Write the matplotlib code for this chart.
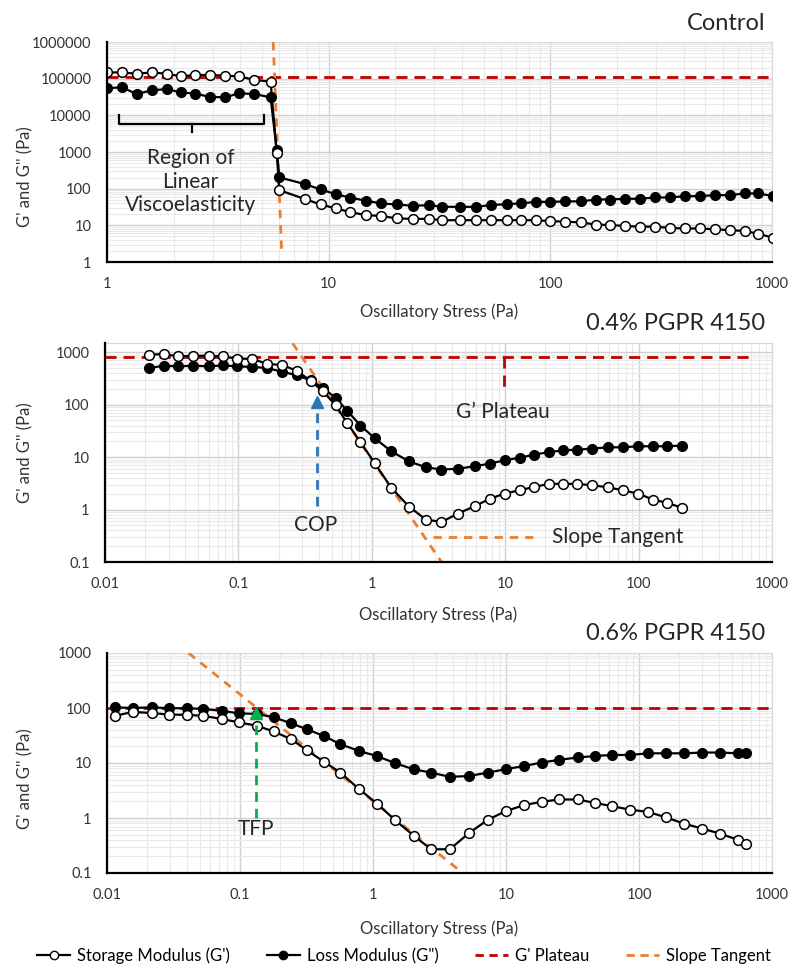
import numpy as np
import matplotlib
matplotlib.use('Agg')
import matplotlib.pyplot as plt
from matplotlib.ticker import LogLocator, FuncFormatter, NullFormatter
from matplotlib.lines import Line2D

plt.rcParams['font.family'] = ['Lato', 'DejaVu Sans']

# ---------------- data ----------------
# Control
ctrl_stress = [1.0, 1.17, 1.36, 1.59, 1.86, 2.16, 2.49, 2.91, 3.41, 3.95, 4.62, 5.47, 5.83, 5.99,
               7.82, 9.2, 10.75, 12.5, 14.7, 17.3, 20.3, 24, 28.4, 32.5, 39, 46, 54, 63.5, 73.5,
               86, 100, 117, 137, 161, 186, 218, 254, 296, 346, 405, 472, 552, 645, 753, 865, 1010]
ctrl_storage = [148000, 148000, 136000, 148000, 136000, 115000, 126000, 126000, 121000, 115000,
                93000, 83000, 950, 91, 52, 37, 29, 23, 19, 18, 15.4, 15, 15, 13.8, 13.8, 13.8,
                13.8, 13.8, 13.8, 13.8, 13, 12.6, 12, 10.5, 10.2, 9.6, 9.2, 9.2, 8.5, 8.2, 8.2,
                7.8, 7.4, 7.0, 5.9, 4.6]
ctrl_loss = [55000, 58000, 38000, 48000, 52000, 42000, 39000, 32000, 31000, 40000, 38000, 31000,
             1130, 203, 133, 95, 71, 57, 47, 39.5, 37, 34, 35.5, 32, 32, 32, 35.5, 38, 39.5, 43.6,
             43.6, 45, 45, 50.6, 50.6, 53, 53, 57.5, 57.5, 62.5, 62.5, 66.5, 66.5, 74, 74, 63]
ctrl_plateau = 112000
ctrl_tangent_x = [5.62, 6.14]
ctrl_tangent_y = [1.0e6, 1.7]

# 0.4% PGPR 4150
p04_stress = [0.0215, 0.0277, 0.0354, 0.0459, 0.0601, 0.077, 0.098, 0.127, 0.163, 0.213, 0.273,
              0.348, 0.431, 0.537, 0.653, 0.822, 1.05, 1.40, 1.90, 2.54, 3.33, 4.43, 5.9, 7.66,
              9.9, 12.8, 16.5, 21.3, 27.1, 34.7, 45, 59, 76, 99, 128, 164, 212]
p04_storage = [896, 923, 832, 858, 858, 832, 752, 752, 600, 570, 445, 285, 179, 97, 45, 19.4, 7.7,
               2.6, 1.14, 0.645, 0.58, 0.84, 1.16, 1.6, 2.02, 2.33, 2.7, 3.09, 3.09, 3.09, 2.9,
               2.66, 2.33, 2.02, 1.55, 1.34, 1.08]
p04_loss = [500, 553, 537, 553, 537, 560, 537, 524, 500, 425, 365, 290, 208, 134, 77, 40, 23, 12.9,
            8.3, 6.4, 5.8, 6.0, 6.7, 7.5, 8.7, 9.7, 11.2, 12.4, 13.5, 13.9, 14.5, 15.4, 15.4,
            16.1, 16.1, 16.1, 16.6]
p04_plateau = 800
p04_plateau_end = 708
p04_tangent_x = [0.255, 3.33]
p04_tangent_y = [1480, 0.1]
p04_cop = 0.386

# 0.6% PGPR 4150
p06_stress = [0.0115, 0.0156, 0.0217, 0.0293, 0.0398, 0.0531, 0.0731, 0.0975, 0.134, 0.179, 0.243,
              0.319, 0.426, 0.569, 0.78, 1.07, 1.47, 2.02, 2.73, 3.78, 5.26, 7.31, 9.93, 13.6,
              18.5, 25, 34.8, 46.4, 63, 85, 117, 159, 218, 300, 407, 557, 637]
p06_storage = [72, 85, 81, 76, 75, 72, 63, 55, 47.5, 37.5, 27, 17, 10.6, 6.7, 3.4, 1.83, 0.91,
               0.48, 0.27, 0.27, 0.53, 0.93, 1.33, 1.71, 1.97, 2.17, 2.17, 1.88, 1.64, 1.42,
               1.29, 1.03, 0.79, 0.64, 0.52, 0.40, 0.34]
p06_loss = [103, 100, 103, 99, 99, 96, 89, 80, 78, 68, 52.5, 41, 31, 22, 16.6, 13.4, 9.9, 7.7,
            6.7, 5.6, 5.8, 6.7, 7.7, 8.8, 10.2, 11.4, 12.6, 13.4, 14, 14, 15, 15, 15, 15.5, 15.5,
            15, 15]
p06_plateau = 100
p06_plateau_end = 950
p06_tangent_x = [0.041, 4.58]
p06_tangent_y = [1000, 0.106]
p06_tfp = 0.133

titles = ["Control", "0.4% PGPR 4150", "0.6% PGPR 4150"]
xlabel = "Oscillatory Stress (Pa)"
ylabel = "G' and G'' (Pa)"
legend_labels = ["Storage Modulus (G')", 'Loss Modulus (G")', "G' Plateau", "Slope Tangent"]

RED = '#C00000'
ORANGE = '#ED7D31'
BLUE = '#2E75B6'
GREEN = '#00B050'
TXT = '#262626'

# ---------------- figure ----------------
W, H = 794, 976
fig = plt.figure(figsize=(W / 100, H / 100), dpi=100)


def ax_rect(l, t, r, b):
    return [l / W, 1 - b / H, (r - l) / W, (b - t) / H]


def fmt(v, pos):
    if v >= 1:
        return f"{int(round(v))}"
    return f"{v:g}"


def style(ax, xlim, ylim):
    ax.set_xscale('log')
    ax.set_yscale('log')
    ax.set_xlim(*xlim)
    ax.set_ylim(*ylim)
    for axis in (ax.xaxis, ax.yaxis):
        axis.set_major_locator(LogLocator(base=10, numticks=20))
        axis.set_minor_locator(LogLocator(base=10, subs=np.arange(2, 10), numticks=100))
        axis.set_major_formatter(FuncFormatter(fmt))
        axis.set_minor_formatter(NullFormatter())
    ax.grid(True, which='minor', color='#e9e9e9', lw=0.8)
    ax.grid(True, which='major', color='#d0d0d0', lw=1.0)
    ax.set_axisbelow(True)
    ax.tick_params(which='both', length=0)
    ax.tick_params(which='major', labelsize=10.5, labelcolor='#333333', pad=11)
    for s in ('top', 'right'):
        ax.spines[s].set_color('#d9d9d9')
        ax.spines[s].set_linewidth(0.8)
    for s in ('left', 'bottom'):
        ax.spines[s].set_color('black')
        ax.spines[s].set_linewidth(1.6)
        ax.spines[s].set_zorder(5)
    ax.set_xlabel(xlabel, fontsize=12, color='#333333')
    ax.set_ylabel(ylabel, fontsize=12, color='#333333')


def series(ax, x, gp, gpp):
    ax.plot(x, gpp, '-o', color='black', lw=1.6, ms=7, mfc='black', mec='black', mew=1.0, zorder=3)
    ax.plot(x, gp, '-o', color='black', lw=1.6, ms=7, mfc='white', mec='black', mew=1.1, zorder=4)


dash_red = dict(color=RED, lw=2.0, ls=(0, (4, 2.5)), zorder=2.5)
dash_or = dict(color=ORANGE, lw=2.0, ls=(0, (3, 2.5)), zorder=2.6)

# ---- Panel 1 ----
ax1 = fig.add_axes(ax_rect(107, 42, 772, 262))
style(ax1, (1, 1000), (1, 1e6))
ax1.plot([1, 1000], [ctrl_plateau, ctrl_plateau], **dash_red)
ax1.plot(ctrl_tangent_x, ctrl_tangent_y, clip_on=False, **dash_or)
series(ax1, ctrl_stress, ctrl_storage, ctrl_loss)
# brace
bx0, bx1, bxm = 1.137, 5.10, 2.41
by, bytop, bybot = 5800, 10200, 3600
ax1.plot([bx0, bx0, bx1, bx1], [bytop, by, by, bytop], color='black', lw=1.6, zorder=3)
ax1.plot([bxm, bxm], [by, bybot], color='black', lw=1.6, zorder=3)
ax1.text(2.38, 1250, "Region of\nLinear\nViscoelasticity", ha='center', va='top',
         fontsize=15, color=TXT, linespacing=1.22)
ax1.yaxis.set_label_coords(-(107 - 33) / 665, 0.39)
ax1.xaxis.set_label_coords(0.5, -(303 - 262) / 220)

# ---- Panel 2 ----
ax2 = fig.add_axes(ax_rect(105, 343, 772, 562))
style(ax2, (0.01, 1000), (0.1, 1500))
ax2.plot([0.01, p04_plateau_end], [p04_plateau, p04_plateau], **dash_red)
ax2.plot([9.8, 9.8], [p04_plateau, 193], **dash_red)
ax2.plot(p04_tangent_x, p04_tangent_y, **dash_or)
ax2.plot([2.88, 17.3], [0.306, 0.306], **dash_or)
series(ax2, p04_stress, p04_storage, p04_loss)
ax2.plot([p04_cop, p04_cop], [1.17, 95], color=BLUE, lw=2.0, ls=(0, (3.5, 2.5)), zorder=3)
ax2.plot([p04_cop], [112], marker='^', ms=8, color=BLUE, zorder=3)
ax2.text(p04_cop * 0.98, 0.50, "COP", ha='center', va='center', fontsize=15, color=TXT)
ax2.text(9.6, 74, "G\u2019 Plateau", ha='center', va='center', fontsize=15, color=TXT)
ax2.text(22.4, 0.306, "Slope Tangent", ha='left', va='center', fontsize=15, color=TXT)
ax2.yaxis.set_label_coords(-(105 - 33) / 667, 0.5)
ax2.xaxis.set_label_coords(0.5, -(606 - 562) / 219)

# ---- Panel 3 ----
ax3 = fig.add_axes(ax_rect(107, 653, 772, 873))
style(ax3, (0.01, 1000), (0.1, 1000))
ax3.plot([0.01, p06_plateau_end], [p06_plateau, p06_plateau], **dash_red)
ax3.plot(p06_tangent_x, p06_tangent_y, **dash_or)
series(ax3, p06_stress, p06_storage, p06_loss)
ax3.plot([p06_tfp, p06_tfp], [1.0, 68], color=GREEN, lw=2.0, ls=(0, (3.5, 2.5)), zorder=5)
ax3.plot([p06_tfp], [80], marker='^', ms=8, color=GREEN, zorder=5)
ax3.text(p06_tfp, 0.64, "TFP", ha='center', va='center', fontsize=15, color=TXT)
ax3.yaxis.set_label_coords(-(107 - 33) / 665, 0.43)
ax3.xaxis.set_label_coords(0.5, -(920 - 873) / 220)

# titles
for t, y in zip(titles, [23, 323, 633]):
    fig.text(765 / W, 1 - y / H, t, ha='right', va='center', fontsize=17, color=TXT)

# legend
handles = [
    Line2D([], [], color='black', lw=1.6, marker='o', ms=6, mfc='white', mec='black'),
    Line2D([], [], color='black', lw=1.6, marker='o', ms=6, mfc='black', mec='black'),
    Line2D([], [], color=RED, lw=2.0, ls=(0, (3, 2))),
    Line2D([], [], color=ORANGE, lw=2.0, ls=(0, (3, 2))),
]
fig.legend(handles, legend_labels, loc='center', bbox_to_anchor=(404 / W, 1 - 956 / H), ncol=4,
           frameon=False, fontsize=12, handlelength=2.0, handletextpad=0.4, columnspacing=2.2)

fig.savefig('out.png', dpi=100)
